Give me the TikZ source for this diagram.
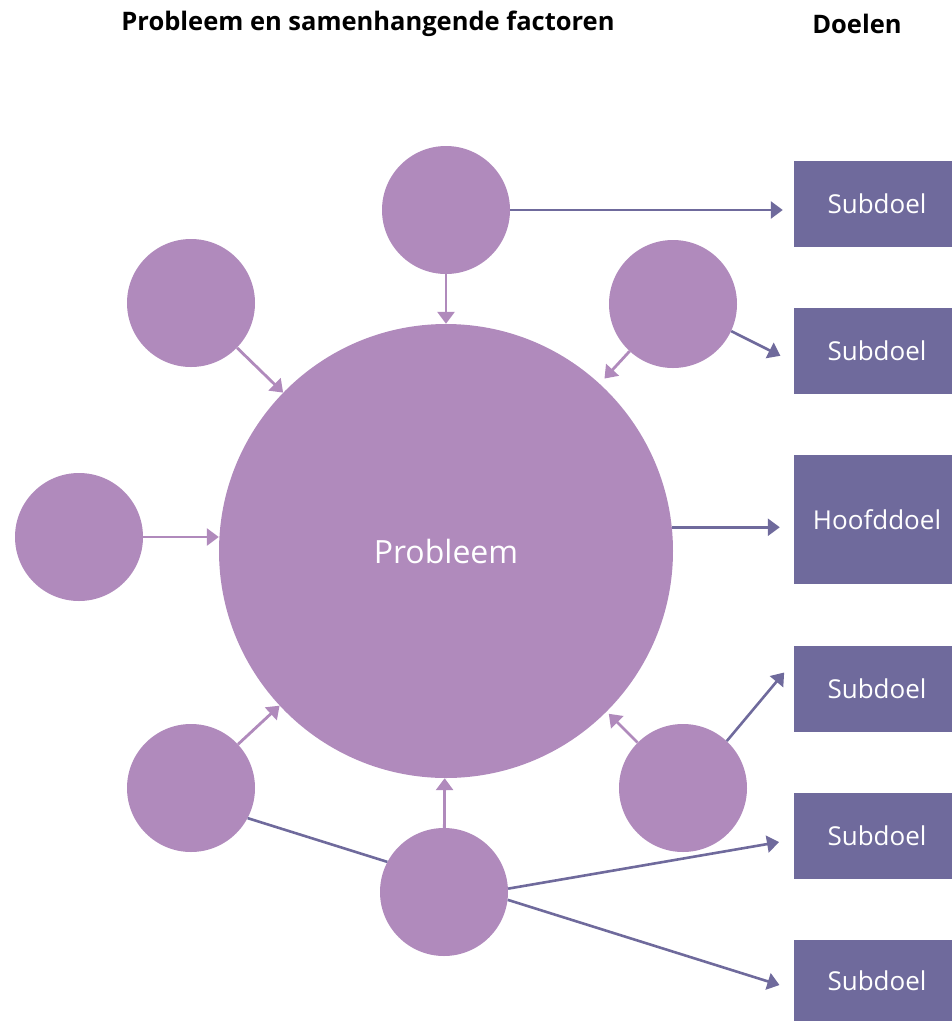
\documentclass[tikz,border=0pt]{standalone}
\usepackage{fontspec}
\setmainfont{Open Sans}
\usetikzlibrary{arrows.meta,calc}
\definecolor{factor}{HTML}{B08ABC}
\definecolor{goal}{HTML}{6F6A9C}
\begin{document}
\begin{tikzpicture}[x=1pt,y=-1pt,
  factorcircle/.style={circle,fill=factor,inner sep=0pt,minimum size=128pt},
  bigcircle/.style={circle,fill=factor,inner sep=0pt,minimum size=454pt,
    text=white,font=\fontsize{32}{38}\selectfont},
  goalbox/.style={fill=goal,inner sep=0pt,minimum width=158pt,minimum height=86pt,
    text=white,font=\fontsize{26}{30}\selectfont},
  header/.style={font=\bfseries\fontsize{25.5}{30}\selectfont,text=black},
  inarrow/.style={draw=factor,line width=2.8pt,-{Triangle[length=12pt,width=17pt]}},
  outarrow/.style={draw=goal,line width=2.6pt,-{Triangle[length=12pt,width=17pt]}},
  link/.style={draw=goal,line width=2.6pt}]
\useasboundingbox (0,0) rectangle (952,1021);

% headings
\node[header] (h1) at (368,24) {Probleem en samenhangende factoren};
\node[header] (h2) at (857,24) {Doelen};

% problem and contributing factors
\node[bigcircle] (big) at (446,551) {Probleem};
\node[factorcircle] (top) at (446,210) {};
\node[factorcircle] (ul) at (191,303) {};
\node[factorcircle] (ur) at (673,304) {};
\node[factorcircle] (lf) at (79,537) {};
\node[factorcircle] (ll) at (191,788) {};
\node[factorcircle] (bot) at (444,892) {};
\node[factorcircle] (lr) at (683,788) {};

% goals (labels sit slightly right of the box centre)
\node[goalbox,text width=158pt,align=center,inner xsep=0pt] (b1) at (873,204) {\hspace*{8pt}Subdoel};
\node[goalbox,text width=158pt,align=center] (b2) at (873,350.5) {\hspace*{8pt}Subdoel};
\node[goalbox,text width=158pt,align=center,minimum height=129pt] (hd) at (873,519.5) {\hspace*{8pt}Hoofddoel};
\node[goalbox,text width=158pt,align=center] (b3) at (873,688.5) {\hspace*{8pt}Subdoel};
\node[goalbox,text width=158pt,align=center] (b4) at (873,835.5) {\hspace*{8pt}Subdoel};
\node[goalbox,text width=158pt,align=center,minimum height=81pt] (b5) at (873,980.5) {\hspace*{8pt}Subdoel};

% factors feeding the problem
\draw[inarrow] (top) -- (big);
\draw[inarrow] (ul) -- (big);
\draw[inarrow] (lf.east) -- (lf.east -| big.west);
\draw[inarrow,shorten >=7pt] (ur) -- (big);
\draw[inarrow] (ll) -- (big);
\draw[inarrow] (bot) -- (big);
\draw[inarrow,shorten >=3pt] (lr) -- (big);

% links towards the goals
\draw[outarrow,shorten >=11pt] (top.east) -- (top.east -| b1.west);
\draw[outarrow,shorten >=15pt] (ur.-25) -- ($(b2.west)+(0,12)$);
\draw[outarrow,shorten >=14pt] (big.6.6) -- (big.6.6 -| hd.west);
\draw[outarrow,shorten >=15pt] (lr.47) -- ($(b3.west)+(0,-27.5)$);
\draw[outarrow,shorten >=15pt] (bot.3.6) -- ($(b4.west)+(0,4)$);
\draw[outarrow,shorten >=15pt] (bot.-7) -- ($(b5.west)+(0,9)$);
\draw[link] (ll.-28) -- (bot.152);
\end{tikzpicture}
\end{document}
